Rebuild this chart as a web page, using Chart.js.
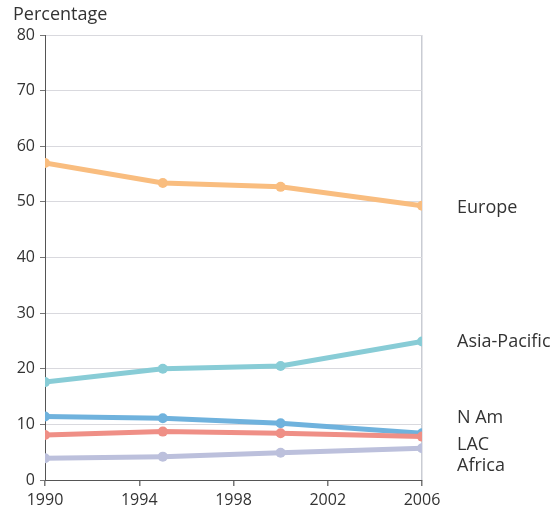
<!DOCTYPE html>
<html>
<head>
<meta charset="utf-8">
<script src="https://cdn.jsdelivr.net/npm/chart.js@4"></script>
<style>
  html, body { margin: 0; padding: 0; background: #fff; }
  #wrap { width: 555px; height: 519px; position: relative; }
</style>
</head>
<body>
<div id="wrap"><canvas id="chart"></canvas></div>
<script>
// data
const years = [1990, 1995, 2000, 2006];
const seriesNames = ['Europe', 'Asia-Pacific', 'N Am', 'LAC', 'Africa'];
const europe = [57.0, 53.4, 52.7, 49.3];
const asiaPacific = [17.6, 20.0, 20.5, 24.9];
const nAm = [11.4, 11.1, 10.2, 8.4];
const lac = [8.1, 8.7, 8.4, 7.8];
const africa = [3.9, 4.2, 4.9, 5.7];
const xTicks = [1990, 1994, 1998, 2002, 2006];
const yTicks = [0, 10, 20, 30, 40, 50, 60, 70, 80];

const FONT = "'Open Sans', 'DejaVu Sans', sans-serif";
const colors = ['#f9bd7f', '#88ccd6', '#6fb2dd', '#ef8f86', '#bcc0dc'];
const labelShift = [2, 0, -15, 8, 18];

function toPoints(vals) {
    return vals.map((v, i) => ({ x: years[i], y: v }));
}

const allSeries = [europe, asiaPacific, nAm, lac, africa];

// series names at the right end + axis title
const endLabels = {
    id: 'endLabels',
    afterDatasetsDraw(chart) {
        const { ctx, scales } = chart;
        ctx.save();
        ctx.font = '18px ' + FONT;
        ctx.fillStyle = '#333';
        ctx.textBaseline = 'middle';
        ctx.textAlign = 'left';
        allSeries.forEach((vals, i) => {
            const last = vals[vals.length - 1];
            const px = scales.x.getPixelForValue(years[years.length - 1]);
            const py = scales.y.getPixelForValue(last);
            ctx.fillText(seriesNames[i], px + 35, py + labelShift[i]);
        });
        ctx.font = '18px ' + FONT;
        ctx.textBaseline = 'alphabetic';
        ctx.fillText('Percentage', 13, 20);
        ctx.restore();
    }
};

new Chart(document.getElementById('chart'), {
    type: 'line',
    data: {
        datasets: allSeries.map((vals, i) => ({
            label: seriesNames[i],
            data: toPoints(vals),
            borderColor: colors[i],
            backgroundColor: colors[i],
            borderWidth: 5,
            pointRadius: 5,
            pointBorderWidth: 0,
            pointHoverRadius: 5,
            tension: 0,
            fill: false
        })).reverse()
    },
    options: {
        responsive: true,
        maintainAspectRatio: false,
        animation: false,
        layout: { padding: { left: 0, right: 133, top: 35, bottom: 0 } },
        plugins: {
            legend: { display: false },
            tooltip: { enabled: false }
        },
        scales: {
            x: {
                type: 'linear',
                min: 1990,
                max: 2006,
                afterBuildTicks(axis) {
                    axis.ticks = xTicks.map(v => ({ value: v }));
                },
                afterFit(axis) { axis.height = 39; },
                border: { display: true, color: '#555', width: 1 },
                grid: {
                    color: ctx => (ctx.tick && ctx.tick.value === 2006) ? '#c9ccd3' : 'rgba(0,0,0,0)',
                    lineWidth: 1.5,
                    tickColor: '#777',
                    tickLength: 6,
                    drawTicks: true
                },
                ticks: {
                    color: '#333',
                    padding: 5,
                    maxRotation: 0,
                    font: { family: FONT, size: 16 },
                    callback: v => String(v)
                }
            },
            y: {
                min: 0,
                max: 80,
                afterBuildTicks(axis) {
                    axis.ticks = yTicks.map(v => ({ value: v }));
                },
                afterFit(axis) { axis.width = 45; },
                border: { display: true, color: '#555', width: 1 },
                grid: {
                    color: '#d9d9de',
                    lineWidth: 1,
                    tickColor: '#777',
                    tickLength: 5
                },
                ticks: {
                    color: '#333',
                    padding: 5,
                    font: { family: FONT, size: 16 }
                }
            }
        }
    },
    plugins: [endLabels]
});
</script>
</body>
</html>
